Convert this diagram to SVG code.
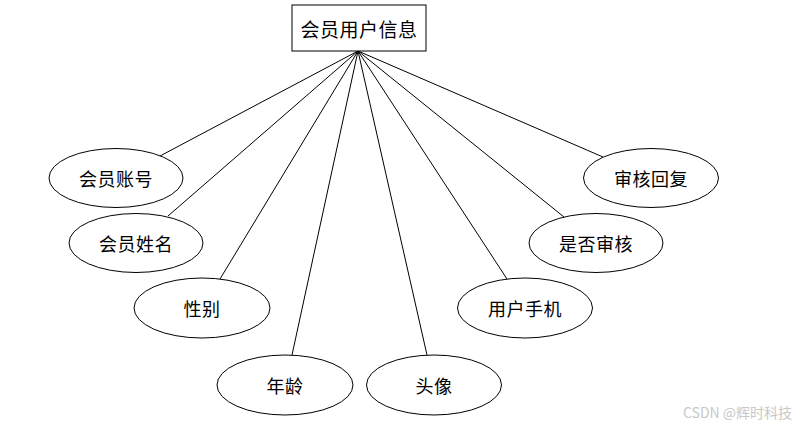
<svg xmlns="http://www.w3.org/2000/svg" width="810" height="431" viewBox="0 0 810 431">
<style>
.n{fill:#fff;stroke:#000;stroke-width:1}
.t{font-family:"Noto Sans CJK SC","Noto Sans",sans-serif;font-size:18px;fill:#000;text-anchor:middle;dominant-baseline:central;letter-spacing:0.5px}
.c line{stroke:#000;stroke-width:1}
.w{font-family:"Noto Sans CJK SC","Noto Sans",sans-serif;font-size:14px;fill:#c8c8c8}
</style>
<rect width="810" height="431" fill="#fff"/>
<g class="c" id="connectors">
<line x1="358" y1="51" x2="160" y2="156"/>
<line x1="358" y1="51" x2="168" y2="216"/>
<line x1="358" y1="51" x2="220" y2="279"/>
<line x1="358" y1="51" x2="292" y2="355"/>
<line x1="358" y1="51" x2="427" y2="355"/>
<line x1="358" y1="51" x2="507" y2="279"/>
<line x1="358" y1="51" x2="564" y2="217"/>
<line x1="358" y1="51" x2="603" y2="157"/>
</g>
<g id="entity"><rect class="n" x="292" y="5" width="134" height="46"/><text class="t" x="359" y="28" style="font-size:19px">会员用户信息</text></g>
<g id="a1"><ellipse class="n" cx="116" cy="178" rx="67" ry="29.5"/><text class="t" x="116" y="178">会员账号</text></g>
<g id="a2"><ellipse class="n" cx="136" cy="243" rx="67" ry="29.5"/><text class="t" x="136" y="243">会员姓名</text></g>
<g id="a3"><ellipse class="n" cx="202" cy="308" rx="68" ry="30"/><text class="t" x="202" y="308">性别</text></g>
<g id="a4"><ellipse class="n" cx="285" cy="385" rx="68" ry="30"/><text class="t" x="285" y="385">年龄</text></g>
<g id="a5"><ellipse class="n" cx="434" cy="385" rx="67.5" ry="30"/><text class="t" x="434" y="385">头像</text></g>
<g id="a6"><ellipse class="n" cx="525" cy="308" rx="67.5" ry="30"/><text class="t" x="525" y="308">用户手机</text></g>
<g id="a7"><ellipse class="n" cx="596" cy="243" rx="67" ry="29.5"/><text class="t" x="596" y="243">是否审核</text></g>
<g id="a8"><ellipse class="n" cx="651" cy="178" rx="67.5" ry="29.5"/><text class="t" x="651" y="178">审核回复</text></g>
<text class="w" x="683" y="418">CSDN @辉时科技</text>
</svg>
